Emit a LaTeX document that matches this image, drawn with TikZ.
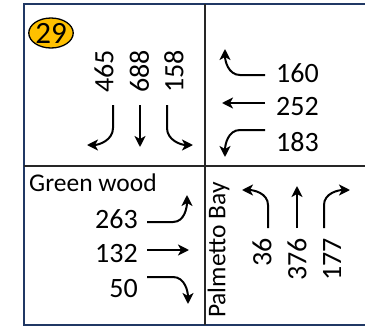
\documentclass[tikz,border=0pt]{standalone}
\usepackage{fontspec}
\setmainfont{Carlito}
\usetikzlibrary{arrows.meta,shapes.geometric}
\definecolor{framenavy}{HTML}{203864}
\definecolor{badgegold}{HTML}{FFC000}
\begin{document}
\begin{tikzpicture}[x=1pt,y=-1pt,
  num/.style={inner sep=0pt,font=\fontsize{28}{30}\selectfont},
  lbl/.style={inner sep=0pt,font=\fontsize{25.5}{28}\selectfont},
  mv/.style={line width=2pt,-{Stealth[length=11pt,width=11pt,inset=3pt]}}]
\useasboundingbox (0,0) rectangle (365,327);
% frame
\draw[framenavy,line width=2pt] (24,4) rectangle (370,325);
\draw[black!85,line width=1.5pt] (205,4) -- (205,325);
\draw[black!85,line width=1.5pt] (24,166) -- (370,166);
% badge
\node[draw=black,line width=1.3pt,fill=badgegold,ellipse,minimum width=40pt,minimum height=30pt,inner sep=0pt,font=\fontsize{31}{32}\selectfont] (badge) at (51,33) {29};
% top-left (southbound)
\node[num,rotate=90,anchor=west] (n465) at (104,93) {465};
\node[num,rotate=90,anchor=west] (n688) at (139.5,93) {688};
\node[num,rotate=90,anchor=west] (n158) at (174,93) {158};
\coordinate (a1s) at (113,105); \coordinate (a1e) at (87,145);
\coordinate (a2s) at (140,105); \coordinate (a2e) at (140,147);
\coordinate (a3s) at (167,105); \coordinate (a3e) at (193,145);
\draw[mv] (a1s) -- (113,128) to[out=-90,in=0] (a1e);
\draw[mv] (a2s) -- (a2e);
\draw[mv] (a3s) -- (167,128) to[out=-90,in=180] (a3e);
% top-right (westbound)
\node[num,anchor=west] (n160) at (276,73) {160};
\node[num,anchor=west] (n252) at (276,107) {252};
\node[num,anchor=west] (n183) at (276,142) {183};
\coordinate (b1s) at (265,75); \coordinate (b1e) at (225,49);
\coordinate (b2s) at (265,103); \coordinate (b2e) at (222,103);
\coordinate (b3s) at (265,130); \coordinate (b3e) at (225,157);
\draw[mv] (b1s) -- (240,75) to[out=180,in=-90] (b1e);
\draw[mv] (b2s) -- (b2e);
\draw[mv] (b3s) -- (240,130) to[out=180,in=90] (b3e);
% bottom-left (eastbound)
\node[lbl,anchor=west] (gw) at (29,183) {Green wood};
\node[num,anchor=east] (n263) at (138,219) {263};
\node[num,anchor=east] (n132) at (138,254) {132};
\node[num,anchor=east] (n50) at (138,289) {50};
\coordinate (c1s) at (147,222); \coordinate (c1e) at (187,195);
\coordinate (c2s) at (147,250); \coordinate (c2e) at (189,250);
\coordinate (c3s) at (147,277); \coordinate (c3e) at (188,304);
\draw[mv] (c1s) -- (173,222) to[out=0,in=-90] (c1e);
\draw[mv] (c2s) -- (c2e);
\draw[mv] (c3s) -- (173,277) to[out=0,in=90] (c3e);
% bottom-right (northbound)
\node[lbl,rotate=90] (pb) at (218.5,250) {Palmetto Bay};
\node[num,rotate=90,anchor=east] (n36) at (262,238) {36};
\node[num,rotate=90,anchor=east] (n376) at (297,238) {376};
\node[num,rotate=90,anchor=east] (n177) at (332,238) {177};
\coordinate (d1s) at (268,228); \coordinate (d1e) at (242,190);
\coordinate (d2s) at (297,228); \coordinate (d2e) at (297,186);
\coordinate (d3s) at (324,228); \coordinate (d3e) at (350,190);
\draw[mv] (d1s) -- (268,205) to[out=90,in=0] (d1e);
\draw[mv] (d2s) -- (d2e);
\draw[mv] (d3s) -- (324,205) to[out=90,in=180] (d3e);
\end{tikzpicture}
\end{document}
